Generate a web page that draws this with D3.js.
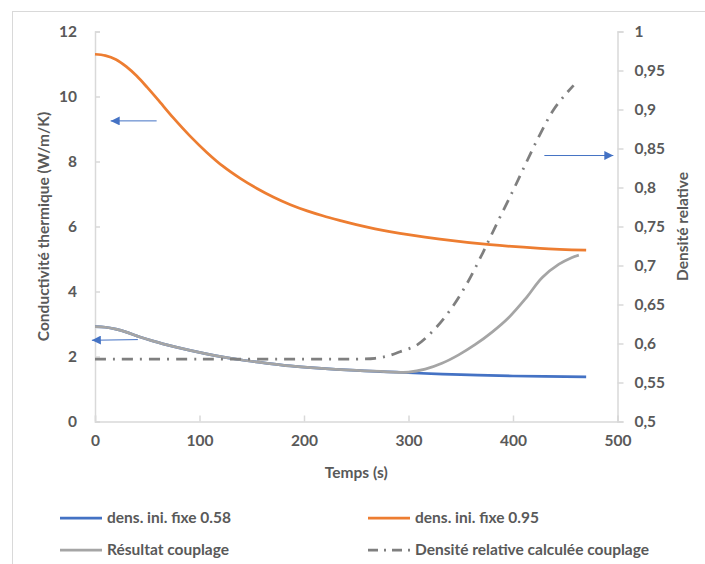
<!DOCTYPE html>
<html><head><meta charset="utf-8">
<script src="https://cdn.jsdelivr.net/npm/d3@7"></script>
<style>
html,body{margin:0;padding:0;background:#fff;}
svg text{font-family:Lato,"Open Sans",sans-serif;font-weight:bold;fill:#595959;}
</style></head>
<body><svg id="c" width="705" height="564"></svg>
<script>
// ---- data ----
const timeFixe058 = [0,10,20,30,43,55,65,91,115,139,165,187,210,250,280,300,350,400,470];
const condFixe058 = [2.92,2.90,2.84,2.75,2.60,2.48,2.39,2.19,2.03,1.90,1.79,1.71,1.65,1.57,1.53,1.50,1.44,1.40,1.37];

const timeFixe095 = [0,10,20,30,40,50,60,75,91,107,123,139,155,171,187,203,218,234,250,282,330,378,426,470];
const condFixe095 = [11.30,11.26,11.14,10.92,10.63,10.28,9.91,9.34,8.78,8.28,7.84,7.48,7.17,6.90,6.67,6.48,6.33,6.19,6.06,5.84,5.61,5.44,5.33,5.27];

const timeCouplage = [0,10,20,30,43,55,65,91,115,139,165,187,210,250,280,300,316,332,348,364,380,396,412,428,444,456,463];
const condCouplage = [2.92,2.90,2.84,2.75,2.60,2.48,2.39,2.19,2.03,1.90,1.79,1.71,1.65,1.57,1.53,1.52,1.61,1.79,2.05,2.37,2.75,3.20,3.78,4.43,4.84,5.04,5.12];

const timeDensite = [0,100,200,250,268,280,292,308,324,340,356,371,385,400,412,425,439,450,458];
const densite = [0.58,0.58,0.58,0.58,0.581,0.584,0.5895,0.598,0.617,0.643,0.677,0.716,0.755,0.796,0.830,0.866,0.900,0.919,0.931];

const xTicks = [0,100,200,300,400,500];
const yLeftTicks = [0,2,4,6,8,10,12];
const yRightTicks = [0.5,0.55,0.6,0.65,0.7,0.75,0.8,0.85,0.9,0.95,1];

const seriesNames = ["dens. ini. fixe 0.58","dens. ini. fixe 0.95","Résultat couplage","Densité relative calculée couplage"];
const xTitle = "Temps (s)";
const yLeftTitle = "Conductivité thermique (W/m/K)";
const yRightTitle = "Densité relative";

// annotation arrows in data units
const arrows = [
  {t0:59, v0:9.25, t1:15, v1:9.25, axis:"left"},
  {t0:41, v0:2.52, t1:-3, v1:2.50, axis:"left"},
  {t0:430, v0:0.841, t1:496, v1:0.841, axis:"right"}
];

// ---- layout ----
const svg = d3.select("#c");
const L = 95, R = 617.5, T = 31.5, B = 421.5;
const x = d3.scaleLinear().domain([0,500]).range([L,R]);
const yL = d3.scaleLinear().domain([0,12]).range([B,T]);
const yR = d3.scaleLinear().domain([0.5,1]).range([B,T]);

svg.append("rect").attr("x",12.5).attr("y",11.5).attr("width",720).attr("height",600)
  .attr("fill","#fff").attr("stroke","#d9d9d9").attr("stroke-width",1);

const axisColor = "#d9d9d9";
const fs = 15.5;

const gx = svg.append("g").attr("transform",`translate(0,${B})`)
  .call(d3.axisBottom(x).tickValues(xTicks).tickSize(-6).tickPadding(13).tickFormat(d3.format("d")));
const gl = svg.append("g").attr("transform",`translate(${L},0)`)
  .call(d3.axisLeft(yL).tickValues(yLeftTicks).tickSize(-5).tickPadding(18).tickFormat(d3.format("d")));
const gr = svg.append("g").attr("transform",`translate(${R},0)`)
  .call(d3.axisRight(yR).tickValues(yRightTicks).tickSize(6).tickPadding(11)
    .tickFormat(d => String(+d.toFixed(2)).replace(".",",")));
[gx,gl,gr].forEach(g=>{
  g.select(".domain").attr("stroke",axisColor).attr("stroke-width",1.5);
  g.selectAll(".tick line").attr("stroke",axisColor).attr("stroke-width",1.5);
  g.selectAll(".tick text").attr("font-size",fs).attr("fill","#595959")
    .attr("font-family","Lato").attr("font-weight","bold");
});

svg.append("text").attr("x",(L+R)/2).attr("y",478).attr("text-anchor","middle")
  .attr("font-size",fs).text(xTitle);
svg.append("text").attr("transform",`translate(49,${(T+B)/2}) rotate(-90)`).attr("text-anchor","middle")
  .attr("font-size",fs).text(yLeftTitle);
svg.append("text").attr("transform",`translate(688,${(T+B)/2}) rotate(-90)`).attr("text-anchor","middle")
  .attr("font-size",fs).text(yRightTitle);

const clr = {blue:"#4472c4", orange:"#ed7d31", gray:"#a5a5a5", dark:"#7f7f7f"};
const mk = (ts, vs, ys) => ts.map((t,i)=>[x(t), ys(vs[i])]);
const line = d3.line().curve(d3.curveCatmullRom.alpha(0.5));
const dash = "11,7,2,7";

svg.append("path").attr("d",line(mk(timeFixe058,condFixe058,yL))).attr("fill","none")
  .attr("stroke",clr.blue).attr("stroke-width",2.75);
svg.append("path").attr("d",line(mk(timeFixe095,condFixe095,yL))).attr("fill","none")
  .attr("stroke",clr.orange).attr("stroke-width",2.75);
svg.append("path").attr("d",line(mk(timeCouplage,condCouplage,yL))).attr("fill","none")
  .attr("stroke",clr.gray).attr("stroke-width",2.75);
svg.append("path").attr("d",line(mk(timeDensite,densite,yR))).attr("fill","none")
  .attr("stroke",clr.dark).attr("stroke-width",2.75).attr("stroke-dasharray",dash);

svg.append("defs").append("marker").attr("id","ah").attr("viewBox","0 0 10 10")
  .attr("refX",10).attr("refY",5).attr("markerWidth",10).attr("markerHeight",9)
  .attr("markerUnits","userSpaceOnUse").attr("orient","auto")
  .append("path").attr("d","M0,0L10,5L0,10Z").attr("fill",clr.blue);
arrows.forEach(a=>{
  const ys = a.axis==="left"? yL : yR;
  svg.append("line").attr("x1",x(a.t0)).attr("y1",ys(a.v0)).attr("x2",x(a.t1)).attr("y2",ys(a.v1))
    .attr("stroke",clr.blue).attr("stroke-width",1).attr("marker-end","url(#ah)");
});

const legend = [
  {name:seriesNames[0], color:clr.blue, dash:null, lx:60, ly:518},
  {name:seriesNames[1], color:clr.orange, dash:null, lx:368, ly:518},
  {name:seriesNames[2], color:clr.gray, dash:null, lx:60, ly:550},
  {name:seriesNames[3], color:clr.dark, dash:"10,6,2,6", lx:368, ly:550}
];
legend.forEach(d=>{
  svg.append("line").attr("x1",d.lx).attr("x2",d.lx+42).attr("y1",d.ly).attr("y2",d.ly)
    .attr("stroke",d.color).attr("stroke-width",2.75).attr("stroke-dasharray",d.dash);
  svg.append("text").attr("x",d.lx+47).attr("y",d.ly).attr("dy","0.35em")
    .attr("font-size",fs).text(d.name);
});
</script></body></html>
